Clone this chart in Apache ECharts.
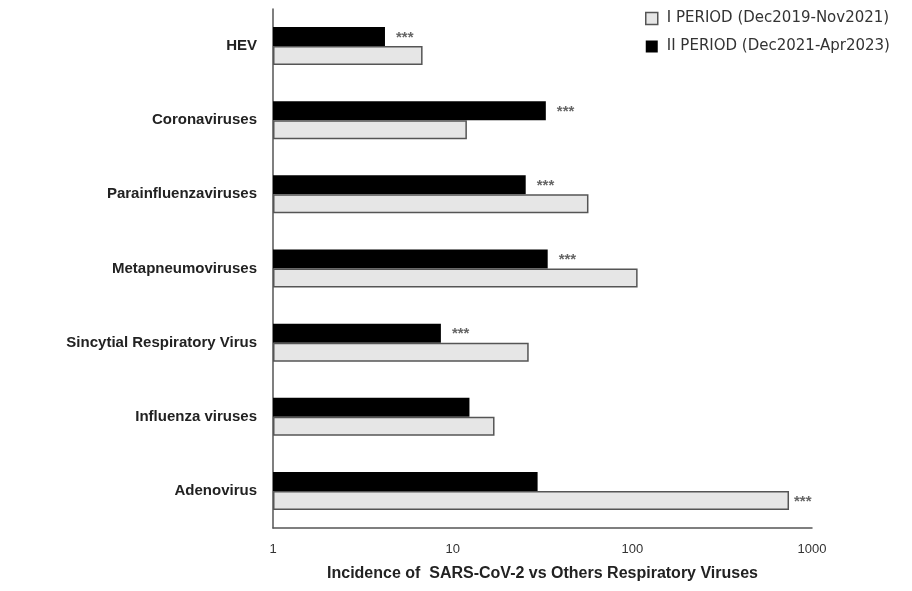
<!DOCTYPE html>
<html>
<head>
<meta charset="utf-8">
<style>
  html, body { margin: 0; padding: 0; background: #fff; }
  #chart { width: 912px; height: 591px; }
</style>
<script src="https://cdn.jsdelivr.net/npm/echarts@6/dist/echarts.min.js"></script>
</head>
<body>
<div id="chart"></div>
<script>
// Virus groups, listed top to bottom
const categories = [
  'HEV',
  'Coronaviruses',
  'Parainfluenzaviruses',
  'Metapneumoviruses',
  'Sincytial Respiratory Virus',
  'Influenza viruses',
  'Adenovirus'
];

// Incidence ratio, SARS-CoV-2 vs other respiratory viruses
const periodI  = [6.8, 12, 57, 107, 26.5, 17.1, 745];
const periodII = [4.2, 33, 25.5, 33.8, 8.6, 12.4, 29.7];

// Which period carries the significance marker in each group
const significance = ['II', 'II', 'II', 'II', 'II', '', 'I'];
const sigText = '***';

const tickLabels = ['1', '10', '100', '1000'];

const seriesNames = ['I PERIOD (Dec2019-Nov2021)', 'II PERIOD (Dec2021-Apr2023)'];

const FONT = 'Liberation Sans, Arial, sans-serif';

function sigLabel(distance) {
  return {
    show: false,
    position: 'right',
    distance: distance,
    formatter: () => sigText,
    color: '#666',
    fontFamily: FONT,
    fontSize: 15,
    fontWeight: 'bold',
    offset: [0, 1]
  };
}

function withMarkers(values, period) {
  return values.map((v, i) => ({
    value: v,
    label: { show: significance[i] === period }
  }));
}

const chart = echarts.init(document.getElementById('chart'), null, { renderer: 'canvas' });

chart.setOption({
  animation: false,
  backgroundColor: '#fff',
  grid: { left: 273, right: 100, top: 9, bottom: 63, containLabel: false },
  legend: {
    top: 6,
    left: 640,
    orient: 'vertical',
    itemGap: 13,
    itemWidth: 12,
    itemHeight: 12,
    icon: 'rect',
    textStyle: {
      fontFamily: 'DejaVu Sans, sans-serif',
      fontSize: 15,
      color: '#333',
      padding: [0, 0, 0, 4]
    },
    data: [
      { name: seriesNames[0], itemStyle: { color: '#e6e6e6', borderColor: '#555', borderWidth: 1.5 } },
      { name: seriesNames[1], itemStyle: { color: '#000' } }
    ]
  },
  xAxis: {
    type: 'log',
    logBase: 10,
    min: 1,
    max: 1000,
    name: 'Incidence of  SARS-CoV-2 vs Others Respiratory Viruses',
    nameLocation: 'middle',
    nameGap: 38,
    nameTextStyle: {
      fontFamily: FONT,
      fontSize: 16,
      fontWeight: 'bold',
      color: '#222'
    },
    axisLine: { show: true, lineStyle: { color: '#555', width: 1.5 } },
    axisTick: { show: false },
    splitLine: { show: false },
    minorTick: { show: false },
    axisLabel: {
      margin: 15,
      fontFamily: FONT,
      fontSize: 13,
      color: '#333',
      formatter: (v) => {
        const idx = Math.round(Math.log10(v));
        return tickLabels[idx] !== undefined ? tickLabels[idx] : '';
      }
    }
  },
  yAxis: {
    type: 'category',
    inverse: true,
    data: categories,
    axisLine: { show: true, lineStyle: { color: '#555', width: 1.5 } },
    axisTick: { show: false },
    axisLabel: {
      margin: 16,
      fontFamily: FONT,
      fontSize: 15,
      fontWeight: 'bold',
      color: '#222'
    }
  },
  series: [
    {
      name: seriesNames[1],
      type: 'bar',
      barWidth: 19,
      barGap: '0%',
      itemStyle: { color: '#000' },
      label: sigLabel(11),
      data: withMarkers(periodII, 'II')
    },
    {
      name: seriesNames[0],
      type: 'bar',
      barWidth: 19,
      itemStyle: { color: '#e6e6e6', borderColor: '#555', borderWidth: 1.5 },
      label: sigLabel(5),
      data: withMarkers(periodI, 'I')
    }
  ]
});
</script>
</body>
</html>
